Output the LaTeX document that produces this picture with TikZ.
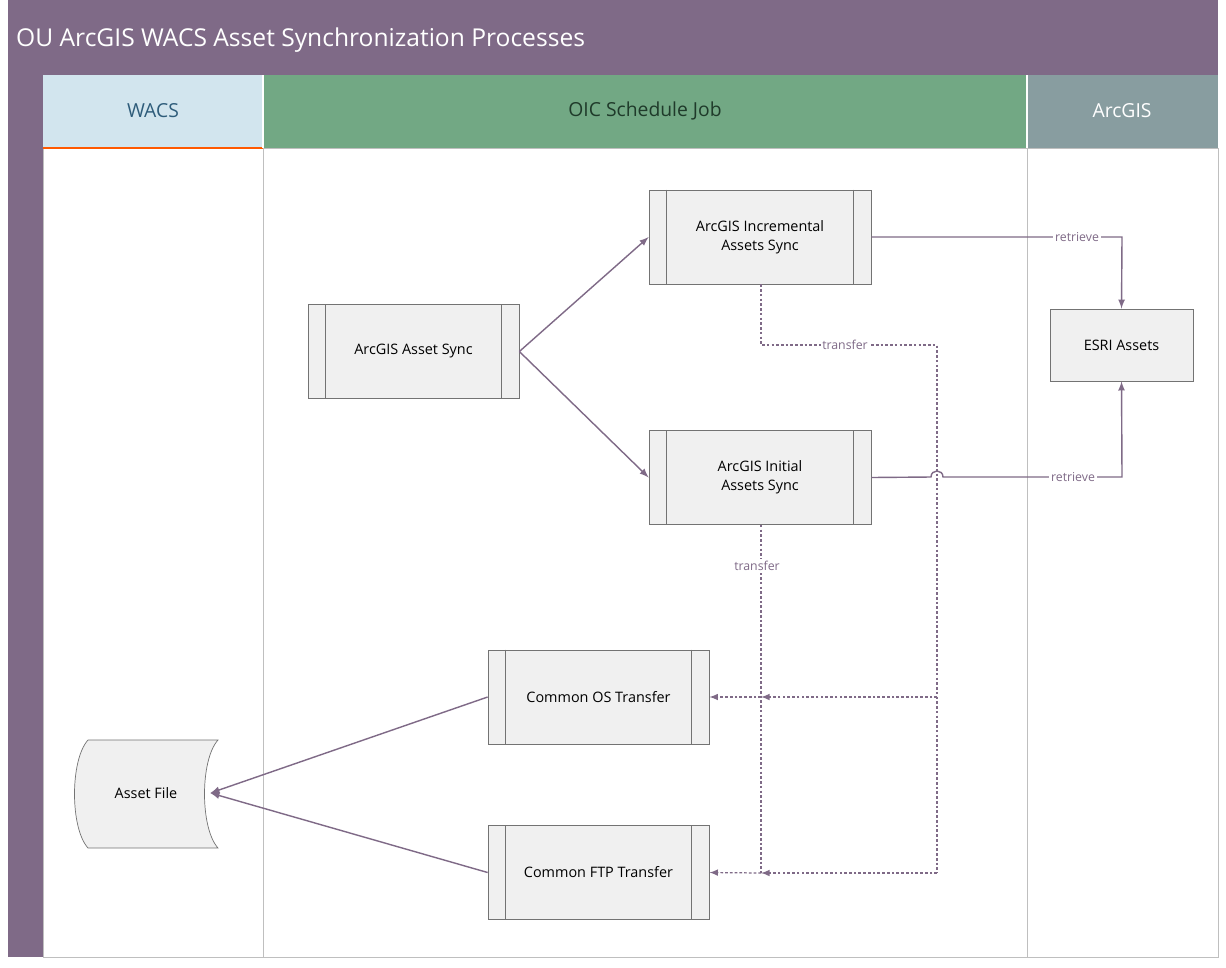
\documentclass[tikz,border=0pt]{standalone}
\usepackage{fontspec}
\setmainfont{Open Sans}
\begin{document}
\begin{tikzpicture}[x=0.02cm,y=-0.02cm,
  pc/.style={draw=black!55,fill=black!6,minimum width=4.42cm,minimum height=1.88cm,align=center,font=\fontsize{8.2}{11}\selectfont,inner sep=0pt},
  lane/.style={draw=black!25,fill=white},
  conn/.style={draw=cpurple,line width=0.8pt},
  dot/.style={draw=cpurple,line width=0.7pt,dash pattern=on 1.5pt off 1.2pt},
  arr/.style={-latex},
  lbl/.style={fill=white,inner sep=1pt,text=cpurple,font=\fontsize{7}{8}\selectfont}]
\definecolor{cpurple}{HTML}{7F6A87}
\definecolor{wacs}{HTML}{D2E5EE}
\definecolor{oic}{HTML}{72A884}
\definecolor{arc}{HTML}{889DA0}
\useasboundingbox (0,0) rectangle (1226,967);
\fill[white] (0,0) rectangle (1226,967);
% lanes
\draw[lane] (43,148) rectangle (263,957);
\draw[lane] (263,148) rectangle (1027,957);
\draw[lane] (1027,148) rectangle (1218,957);
\fill[wacs] (43,75) rectangle (263,148);
\draw[orange!70!red,line width=0.8pt] (43,148) -- (263,148);
\fill[oic] (263,75) rectangle (1027,148);
\fill[arc] (1027,75) rectangle (1218,148);
\draw[white,line width=0.6pt] (263,75)--(263,148) (1027,75)--(1027,148);
\node (hw) at (153,111) {\fontsize{11}{13}\selectfont\color[HTML]{2E5C7A}WACS};
\node (ho) at (645,111) {\fontsize{11}{13}\selectfont\color[HTML]{1F3A2A}OIC Schedule Job};
\node (ha) at (1122,111) {\fontsize{11}{13}\selectfont\color{white}ArcGIS};
\fill[cpurple] (8,0) rectangle (1218,75);
\fill[cpurple] (8,75) rectangle (43,957);
\node[anchor=west] (title) at (10,40) {\fontsize{14}{17}\selectfont\color{white}OU ArcGIS WACS Asset Synchronization Processes};
% process nodes
\newcommand{\pbox}[4]{\node[pc,minimum width=#3*0.02cm] (#1) at (#2) {#4};
  \draw[black!55] ([xshift=18*0.02cm]#1.north west) -- ([xshift=18*0.02cm]#1.south west)
    ([xshift=-18*0.02cm]#1.north east) -- ([xshift=-18*0.02cm]#1.south east);}
\pbox{sync}{413.5,351.5}{211}{ArcGIS Asset Sync}
\pbox{inc}{760,237}{222}{ArcGIS Incremental\\Assets Sync}
\pbox{ini}{760,477.5}{222}{ArcGIS Initial\\Assets Sync}
\pbox{os}{598.5,697}{221}{Common OS Transfer}
\pbox{ftp}{598.5,872.5}{221}{Common FTP Transfer}
\node[draw=black!55,fill=black!6,minimum width=2.86cm,minimum height=1.44cm,font=\fontsize{8.2}{11}\selectfont] (esri) at (1121.5,345) {ESRI Assets};
% asset file
\draw[black!55,fill=black!6] (88,740) -- (218,740) .. controls (200,760) and (200,828) .. (218,848) -- (88,848) .. controls (70,828) and (70,760) .. (88,740) -- cycle;
\node[minimum width=2.56cm,inner sep=0pt,font=\fontsize{8.2}{11}\selectfont] (af) at (146,793) {Asset File};
% connectors
\draw[conn,arr] (sync.east) -- (inc.west);
\draw[conn,arr] (sync.east) -- (ini.west);
\draw[conn,arr] (inc.east) -- (1122,237) -- (esri.north);
\draw[conn,arr] (ini.east) -- (931,477) .. controls (931,469) and (943,469) .. (943,477) -- (1122,477) -- (esri.south);
\node[lbl] (r1) at (1077,237) {retrieve};
\node[lbl] (r2) at (1073,477) {retrieve};
\coordinate (c1) at (761,345);
\coordinate (c2) at (937,345);
\coordinate (c3) at (937,873);
\coordinate (c4) at (937,697);
\coordinate (c5) at (761,697);
\coordinate (c6) at (761,873);
\draw[dot] (inc.south -| c1) -- (c1) -- (c2) -- (c3);
\draw[dot,arr] (c4) -- (c5);
\draw[dot,arr] (c3) -- (c6);
\draw[dot,arr] (c5) -- (os.east);
\draw[dot,arr] (c6) -- (ftp.east);
\draw[dot] (ini.south -| c1) -- (c6);
\node[lbl] (t1) at (845,345) {transfer};
\node[lbl] (t2) at (757,566) {transfer};
\draw[conn,arr] (os.west) -- (af.east);
\draw[conn,arr] (ftp.west) -- (af.east);
\end{tikzpicture}
\end{document}
